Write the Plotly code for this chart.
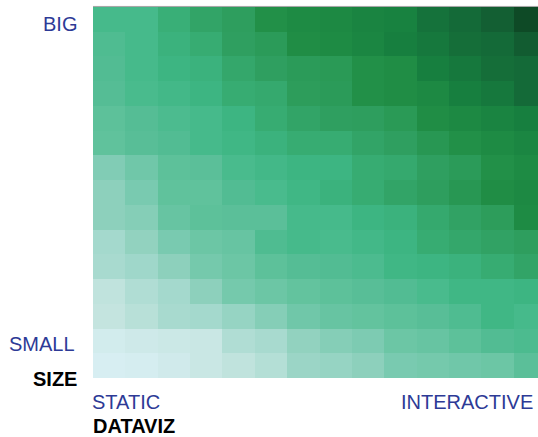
import plotly.graph_objects as go

# Grid: 14 interactivity steps (columns) x 15 size steps (rows, listed from BIG down to SMALL)
columns = list(range(14))
rows = list(range(15))

intensity = [
    [55, 55, 60, 64, 67, 74, 76, 77, 79, 80, 85, 87, 90, 97],
    [52, 55, 59, 61, 66, 69, 75, 76, 78, 81, 83, 86, 87, 91],
    [51, 55, 58, 59, 63, 66, 69, 70, 74, 75, 81, 83, 86, 87],
    [50, 54, 56, 58, 61, 62, 68, 69, 74, 75, 77, 81, 83, 87],
    [47, 50, 53, 55, 58, 61, 64, 66, 67, 70, 75, 77, 79, 81],
    [46, 49, 51, 55, 57, 59, 61, 61, 64, 66, 71, 74, 76, 78],
    [38, 42, 47, 48, 54, 56, 58, 58, 61, 62, 66, 69, 74, 76],
    [35, 40, 46, 46, 51, 54, 57, 59, 61, 64, 67, 71, 75, 77],
    [35, 37, 44, 47, 48, 48, 55, 55, 58, 59, 62, 65, 68, 76],
    [30, 34, 40, 43, 44, 52, 55, 54, 56, 58, 61, 63, 65, 67],
    [29, 31, 35, 41, 43, 47, 50, 51, 53, 57, 58, 59, 61, 64],
    [23, 27, 30, 35, 41, 43, 45, 47, 49, 51, 54, 57, 57, 58],
    [22, 25, 29, 30, 33, 37, 42, 44, 45, 47, 49, 52, 57, 55],
    [16, 18, 19, 20, 27, 29, 34, 37, 39, 43, 44, 47, 51, 53],
    [14, 15, 17, 20, 23, 26, 32, 33, 35, 40, 41, 42, 43, 48],
]

y_labels = ["BIG", "SMALL"]
x_labels = ["STATIC", "INTERACTIVE"]
y_title = "SIZE"
x_title = "DATAVIZ"

greens = [
    [0.00, "#e3f5f8"],
    [0.14, "#d7eef2"],
    [0.22, "#c4e4df"],
    [0.30, "#a4d9cd"],
    [0.35, "#8dd0bc"],
    [0.40, "#79cab0"],
    [0.45, "#63c39e"],
    [0.50, "#55bd95"],
    [0.55, "#46ba8b"],
    [0.58, "#3db582"],
    [0.61, "#37ac72"],
    [0.66, "#2f9f60"],
    [0.70, "#2a9a56"],
    [0.75, "#208d45"],
    [0.80, "#188240"],
    [0.85, "#15723b"],
    [0.90, "#135f33"],
    [0.97, "#0e4a26"],
    [1.00, "#0c4523"],
]

W, H = 538, 437
L, T, B = 93, 7, 59
PW, PH = W - L, H - T - B
CELL_W = 32.37


def fx(px):
    return (px - L) / PW


def fy(py):
    return (T + PH - py) / PH


fig = go.Figure(
    go.Heatmap(
        z=intensity,
        x=columns,
        y=rows,
        colorscale=greens,
        zmin=0,
        zmax=100,
        showscale=False,
        hoverinfo="skip",
    )
)

label_blue = "#2d3a96"
font_family = "Liberation Sans, Arial, sans-serif"

notes = [
    dict(text=y_labels[0], x=fx(78), y=fy(24), xanchor="right", color=label_blue, bold=False),
    dict(text=y_labels[1], x=fx(75.5), y=fy(344), xanchor="right", color=label_blue, bold=False),
    dict(text=y_title, x=fx(78), y=fy(378.5), xanchor="right", color="#000000", bold=True),
    dict(text=x_labels[0], x=fx(90.5), y=fy(402), xanchor="left", color=label_blue, bold=False),
    dict(text=x_title, x=fx(91.5), y=fy(425.5), xanchor="left", color="#000000", bold=True),
    dict(text=x_labels[1], x=fx(533.5), y=fy(402), xanchor="right", color=label_blue, bold=False),
]

for n in notes:
    fig.add_annotation(
        text=f"<b>{n['text']}</b>" if n["bold"] else n["text"],
        x=n["x"],
        y=n["y"],
        xref="paper",
        yref="paper",
        xanchor=n["xanchor"],
        yanchor="middle",
        showarrow=False,
        borderpad=0,
        font=dict(family=font_family, size=20, color=n["color"]),
    )

# thin grey rule along the top edge of the grid
fig.add_shape(
    type="line", xref="paper", yref="paper",
    x0=0, x1=1, y0=1.0015, y1=1.0015,
    line=dict(color="#a2a2a2", width=1),
)

fig.update_xaxes(
    range=[-0.5, -0.5 + PW / CELL_W],
    visible=False,
    showgrid=False,
    zeroline=False,
)
fig.update_yaxes(
    range=[14.5, -0.5],
    visible=False,
    showgrid=False,
    zeroline=False,
)

fig.update_layout(
    width=W,
    height=H,
    margin=dict(l=L, r=0, t=T, b=B),
    paper_bgcolor="#ffffff",
    plot_bgcolor="#ffffff",
    showlegend=False,
)

fig.write_html("out.html")
